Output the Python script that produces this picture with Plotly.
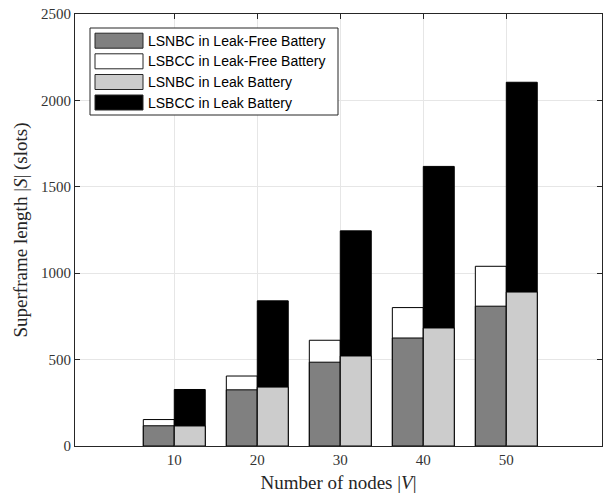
import plotly.graph_objects as go

# ---- data ----
nodes = [10, 20, 30, 40, 50]
lsnbc_leak_free = [117, 325, 485, 625, 809]       # bottom of left bar
lsbcc_leak_free = [153, 405, 612, 801, 1040]      # top of left bar (stack total)
lsnbc_leak = [116, 341, 521, 683, 891]            # bottom of right bar
lsbcc_leak = [327, 840, 1245, 1618, 2105]         # top of right bar (stack total)
y_ticks = [0, 500, 1000, 1500, 2000, 2500]

series_names = [
    "LSNBC in Leak-Free Battery",
    "LSBCC in Leak-Free Battery",
    "LSNBC in Leak Battery",
    "LSBCC in Leak Battery",
]
colors = ["#808080", "#ffffff", "#cccccc", "#000000"]

# ---- layout constants ----
W, H = 608, 496
L, R, T, B = 75, 6, 14, 50
BW = 3.73  # bar width in axis units

fig = go.Figure()

def add_bar(vals, color, offset, name):
    fig.add_trace(go.Bar(
        x=nodes, y=vals, width=BW, offset=offset, name=name,
        marker=dict(color=color, line=dict(color="#000000", width=1)),
        showlegend=False,
    ))

# left bars: draw the stack total first, then the lower segment over it
add_bar(lsbcc_leak_free, colors[1], -BW, series_names[1])
add_bar(lsnbc_leak_free, colors[0], -BW, series_names[0])
# right bars
add_bar(lsbcc_leak, colors[3], 0, series_names[3])
add_bar(lsnbc_leak, colors[2], 0, series_names[2])

axis_common = dict(
    showline=True, linecolor="#262626", linewidth=1, mirror="ticks",
    ticks="inside", ticklen=5, tickcolor="#262626",
    showgrid=True, gridcolor="#e6e6e6", gridwidth=1,
    zeroline=False,
    tickfont=dict(family="Liberation Serif", size=15, color="#333333"),
)

fig.update_layout(
    width=W, height=H,
    margin=dict(l=L, r=R, t=T, b=B),
    paper_bgcolor="white", plot_bgcolor="white",
    barmode="overlay",
    xaxis=dict(
        range=[-1.96, 61.53], tickvals=nodes, ticktext=[str(n) for n in nodes],
        title=dict(text="Number of nodes |<i>V</i>|",
                   font=dict(family="Liberation Serif", size=19, color="#262626"),
                   standoff=8),
        **axis_common,
    ),
    yaxis=dict(
        range=[0, 2500], tickvals=y_ticks, ticktext=[str(v) for v in y_ticks],
        title=dict(text="Superframe length |<i>S</i>| (slots)",
                   font=dict(family="Liberation Serif", size=19, color="#262626"),
                   standoff=8),
        **axis_common,
    ),
)

# ---- custom legend (wide patch swatches, as in the reference) ----
pw = W - L - R
ph = H - T - B
def px_x(px):
    return (px - L) / pw
def px_y(py):
    return (H - B - py) / ph

fig.add_shape(type="rect", xref="paper", yref="paper",
              x0=px_x(90), x1=px_x(338), y0=px_y(115), y1=px_y(28),
              line=dict(color="#262626", width=1), fillcolor="white", layer="above")
row_centers = [40.7, 61.3, 82.0, 102.5]
for name, col, yc in zip(series_names, colors, row_centers):
    fig.add_shape(type="rect", xref="paper", yref="paper",
                  x0=px_x(95), x1=px_x(143), y0=px_y(yc + 7.5), y1=px_y(yc - 7.5),
                  line=dict(color="#262626", width=1), fillcolor=col, layer="above")
    fig.add_annotation(xref="paper", yref="paper", x=px_x(146), y=px_y(yc),
                       xanchor="left", yanchor="middle", showarrow=False,
                       text=name, font=dict(family="Liberation Sans", size=14, color="#000000"))

fig.write_html("out.html")
